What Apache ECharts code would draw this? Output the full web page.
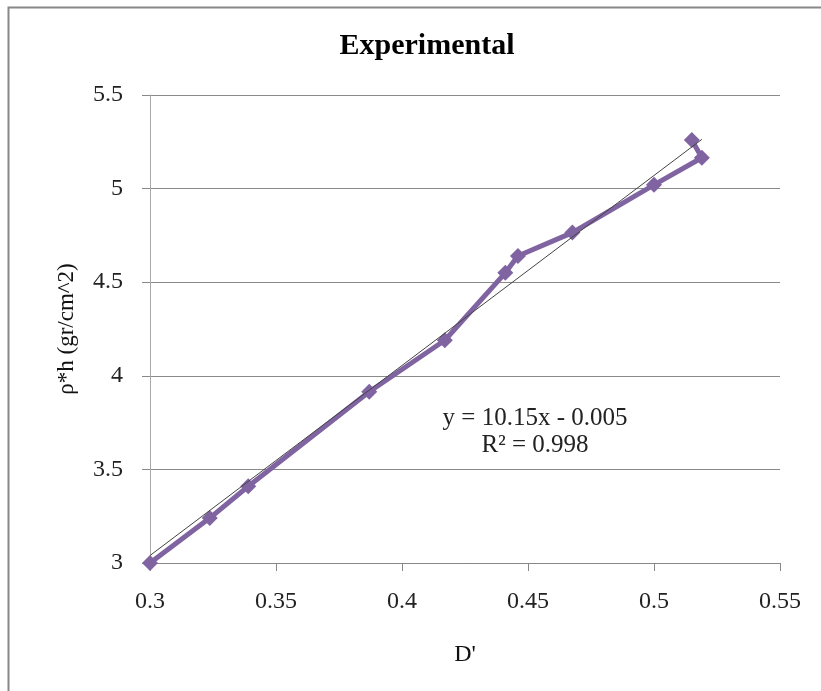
<!DOCTYPE html>
<html>
<head>
<meta charset="utf-8">
<script src="https://cdn.jsdelivr.net/npm/echarts@6/dist/echarts.min.js"></script>
<style>
  html, body { margin: 0; padding: 0; background: #fff; }
  #main { width: 821px; height: 691px; }
</style>
</head>
<body>
<div id="main"></div>
<script>
// measured points, in drawing order
var dValues = [0.300, 0.3237, 0.339, 0.387, 0.417, 0.441, 0.446, 0.4676, 0.500, 0.519, 0.515];
var rhoH = [3.00, 3.24, 3.41, 3.915, 4.19, 4.55, 4.64, 4.765, 5.02, 5.165, 5.26];
// linear trendline ends
var trendX = [0.300, 0.519];
var trendY = [3.040, 5.263];
var xTicks = [0.3, 0.35, 0.4, 0.45, 0.5, 0.55];
var yTicks = [3, 3.5, 4, 4.5, 5, 5.5];

var serif = '"Liberation Serif", "Times New Roman", serif';
var myChart = echarts.init(document.getElementById('main'));

myChart.setOption({
    animation: false,
    backgroundColor: '#fff',
    title: {
        text: 'Experimental',
        left: 422, top: 26, textAlign: 'center',
        textStyle: { fontFamily: serif, fontWeight: 'bold', fontSize: 30, color: '#000' }
    },
    grid: { left: 150, right: 41, top: 95, bottom: 128 },
    xAxis: {
        type: 'value',
        min: xTicks[0], max: xTicks[xTicks.length - 1], interval: 0.05,
        name: "D'", nameLocation: 'middle', nameGap: 80,
        nameTextStyle: { fontFamily: serif, fontSize: 24, color: '#111' },
        axisLine: { lineStyle: { color: '#888', width: 1 } },
        axisTick: { show: true, length: 8, lineStyle: { color: '#888' } },
        axisLabel: { fontFamily: serif, fontSize: 24, color: '#222', margin: 27,
            formatter: function (v) { return String(+v.toFixed(2)); } },
        splitLine: { show: false }
    },
    yAxis: {
        type: 'value',
        min: yTicks[0], max: yTicks[yTicks.length - 1], interval: 0.5,
        name: 'ρ*h (gr/cm^2)', nameLocation: 'middle', nameGap: 72, nameRotate: 90,
        nameTextStyle: { fontFamily: serif, fontSize: 23, color: '#111' },
        axisLine: { show: true, lineStyle: { color: '#aaa', width: 1 } },
        axisTick: { show: true, length: 8, lineStyle: { color: '#888' } },
        axisLabel: { fontFamily: serif, fontSize: 24, color: '#222', margin: 27 },
        splitLine: { show: true, lineStyle: { color: '#8a8a8a', width: 1 } }
    },
    series: [
        {
            type: 'line',
            data: dValues.map(function (d, i) { return [d, rhoH[i]]; }),
            symbol: 'diamond', symbolSize: 16,
            lineStyle: { color: '#8064A2', width: 5 },
            itemStyle: { color: '#8064A2' },
            z: 2
        },
        {
            type: 'line',
            data: trendX.map(function (d, i) { return [d, trendY[i]]; }),
            symbol: 'none',
            lineStyle: { color: '#444', width: 1 },
            z: 3
        }
    ],
    graphic: [
        { type: 'rect', shape: { x: 8.5, y: 7.5, width: 900, height: 800 },
          style: { fill: 'none', stroke: '#888', lineWidth: 2 }, z: -1 },
        { type: 'text', x: 535, y: 418,
          style: { text: 'y = 10.15x - 0.005', font: '25px ' + serif, fill: '#222',
                   textAlign: 'center', textVerticalAlign: 'middle' } },
        { type: 'text', x: 535, y: 445,
          style: { text: 'R² = 0.998', font: '25px ' + serif, fill: '#222',
                   textAlign: 'center', textVerticalAlign: 'middle' } }
    ]
});
window.onresize = function () { myChart.resize(); };
</script>
</body>
</html>
